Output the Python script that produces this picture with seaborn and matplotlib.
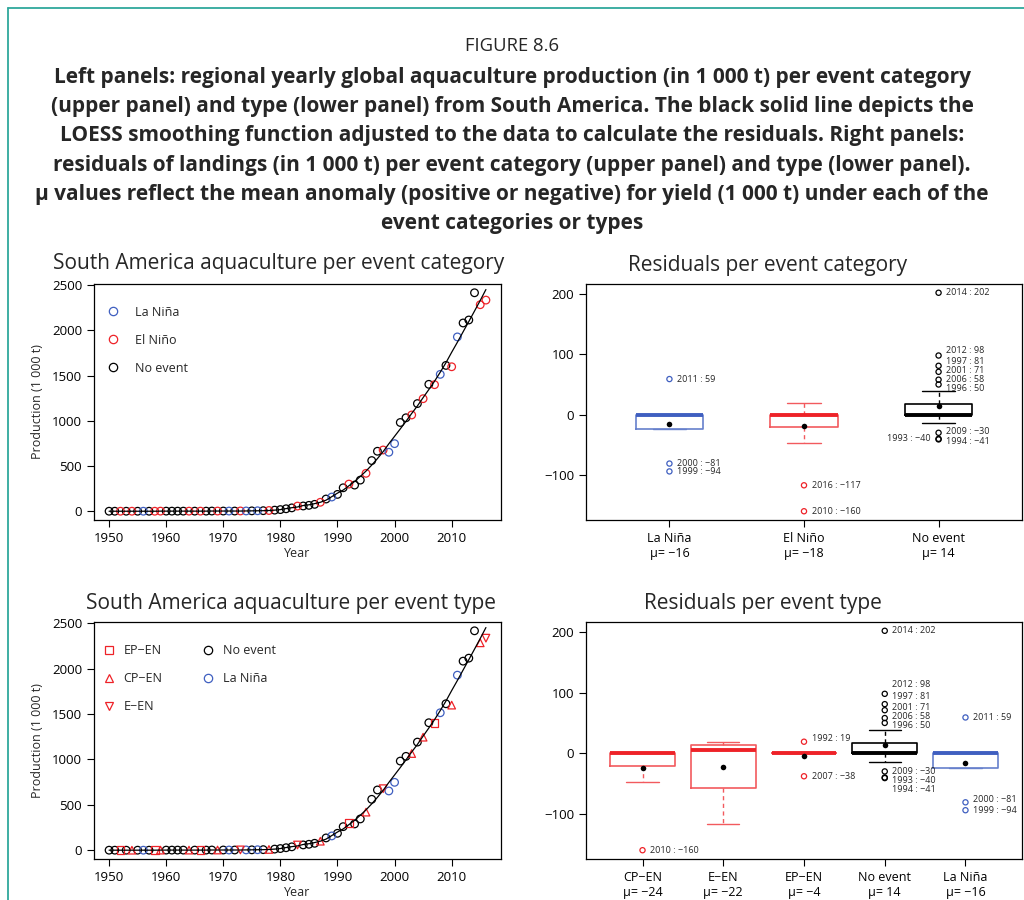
import matplotlib
matplotlib.use("Agg")
import matplotlib.pyplot as plt
import numpy as np
import pandas as pd
import seaborn as sns
from matplotlib.lines import Line2D


# =========================
# DATA
# =========================
YEARS = list(range(1950, 2017))

PRODUCTION = [
    1, 1, 1, 1, 1, 1, 1, 1, 1, 2,
    2, 2, 2, 2, 2, 2, 2, 2, 3, 3,
    3, 3, 3, 4, 4, 5, 6, 7, 9, 13,
    19, 28, 38, 58, 59, 66, 77, 100, 136, 158,
    187, 260, 301, 290, 345, 420, 561, 664, 678, 653,
    748, 982, 1034, 1065, 1191, 1245, 1404, 1400, 1514, 1613,
    1598, 1928, 2082, 2115, 2416, 2284, 2335,
]

RESIDUALS = [
    0, 0, 0, 0, 0, 0, 0, 0, 0, 0,
    0, 0, 0, 0, 0, 0, 0, 0, 0, 0,
    0, 0, 0, 1, 0, 0, 0, 0, 0, 0,
    0, -2, -2, 10, -5, -6, -8, 0, 13, -4,
    -14, 25, 19, -40, -41, -25, 50, 81, 18, -94,
    -81, 71, 39, -17, 26, -12, 58, -38, -24, -30,
    -160, 59, 98, 17, 202, -47, -117,
]

EVENT_CODES = [
    "N", "N", "EP", "N", "CP", "N", "L", "N", "EP", "CP",
    "N", "N", "N", "N", "CP", "N", "EP", "N", "N", "CP",
    "N", "L", "N", "E", "L", "N", "L", "N", "CP", "N",
    "N", "N", "N", "E", "N", "N", "N", "CP", "N", "L",
    "N", "N", "EP", "N", "N", "CP", "N", "N", "E", "L",
    "L", "N", "N", "CP", "N", "CP", "N", "EP", "L", "N",
    "CP", "L", "N", "N", "N", "CP", "E",
]

TYPE_NAMES = {"N": "No event", "L": "La Niña", "CP": "CP−EN", "EP": "EP−EN", "E": "E−EN"}
CATEGORY_ORDER = ["La Niña", "El Niño", "No event"]
TYPE_ORDER = ["CP−EN", "E−EN", "EP−EN", "No event", "La Niña"]
LEGEND_TYPES = ["EP−EN", "CP−EN", "E−EN", "No event", "La Niña"]

CAPTION = [
    "Left panels: regional yearly global aquaculture production (in 1 000 t) per event category",
    "(upper panel) and type (lower panel) from South America. The black solid line depicts the",
    "LOESS smoothing function adjusted to the data to calculate the residuals. Right panels:",
    "residuals of landings (in 1 000 t) per event category (upper panel) and type (lower panel).",
    "μ values reflect the mean anomaly (positive or negative) for yield (1 000 t) under each of the",
    "event categories or types",
]

# =========================
# STYLE
# =========================
BLUE = "#3f5fc0"
RED = "#ee2228"
BLACK = "#000000"
LIGHT = {BLUE: "#6680cc", RED: "#f25a5e", BLACK: "#000000"}
TEAL = "#2fa89c"

GROUP_COLORS = {
    "La Niña": BLUE, "El Niño": RED, "No event": BLACK,
    "CP−EN": RED, "E−EN": RED, "EP−EN": RED,
}
TYPE_MARKERS = {"No event": "o", "La Niña": "o", "CP−EN": "^", "EP−EN": "s", "E−EN": "v"}

# label nudges (data units) and side for crowded outlier labels
NUDGE_TOP = {2012: 8, 1997: 7, 2001: 2, 2006: 1, 1996: -6, 2009: 2, 1994: -4}
LEFT_TOP = {1993}
NUDGE_BOTTOM = {2012: 15, 1997: 12, 2001: 5, 2006: 3, 1996: -4,
                2009: 0, 1993: -5, 1994: -19, 1992: 6, 2000: 4}


def fmt_num(v):
    v = int(round(v))
    return f"−{abs(v)}" if v < 0 else f"{v}"


def tukey_stats(values):
    """R style boxplot stats (Tukey hinges, 1.5 IQR whiskers)."""
    v = np.sort(np.asarray(values, dtype=float))
    n = len(v)
    n4 = np.floor((n + 3) / 2) / 2
    d = np.array([1, n4, (n + 1) / 2, n + 1 - n4, n]) - 1
    five = 0.5 * (v[np.floor(d).astype(int)] + v[np.ceil(d).astype(int)])
    q1, med, q3 = five[1], five[2], five[3]
    iqr = q3 - q1
    lo, hi = q1 - 1.5 * iqr, q3 + 1.5 * iqr
    inside = v[(v >= lo) & (v <= hi)]
    return {
        "med": med, "q1": q1, "q3": q3,
        "whislo": inside.min(), "whishi": inside.max(),
        "mean": v.mean(), "fliers": v[(v < lo) | (v > hi)],
        "lo": lo, "hi": hi,
    }


def style_axes(ax):
    for spine in ax.spines.values():
        spine.set_visible(True)
        spine.set_linewidth(0.9)
        spine.set_color("black")
    ax.tick_params(direction="out", length=5, width=0.8, labelsize=9.5, colors="black")
    ax.grid(False)


def production_panel(ax, df, group_col, order, markers):
    for name in order:
        sub = df[df[group_col] == name]
        color = GROUP_COLORS[name]
        sns.scatterplot(
            data=sub, x="year", y="production", ax=ax,
            marker=markers[name], color=color, facecolor="none", edgecolor=color,
            s=30, linewidth=0.9, legend=False,
        )
    sns.lineplot(data=df, x="year", y="fit", ax=ax, color="black", linewidth=0.9, legend=False)
    ax.set_xlim(1947.36, 2018.64)
    ax.set_ylim(-96, 2513)
    ax.set_xticks(range(1950, 2011, 10))
    ax.set_yticks(range(0, 2501, 500))
    ax.set_xlabel("Year", fontsize=9, labelpad=1.5)
    ax.set_ylabel("Production (1 000 t)", fontsize=9, labelpad=6)
    style_axes(ax)


def legend_handle(name, marker):
    color = GROUP_COLORS[name]
    return Line2D([], [], linestyle="none", marker=marker, markersize=6,
                  markerfacecolor="none", markeredgecolor=color, markeredgewidth=0.9)


def residual_panel(ax, df, group_col, order, width, nudges, left_labels):
    tick_labels = []
    means = []
    for i, name in enumerate(order):
        sub = df[df[group_col] == name]
        st = tukey_stats(sub["residual"])
        color = GROUP_COLORS[name]
        light = LIGHT[color]
        ax.bxp(
            [st], positions=[i], widths=width, capwidths=width / 2,
            showfliers=False, showmeans=False, manage_ticks=False,
            boxprops=dict(color=light, linewidth=1.2),
            medianprops=dict(color=color, linewidth=2.8, solid_capstyle="butt"),
            whiskerprops=dict(color=light, linewidth=1.0, linestyle=(0, (3, 2.5))),
            capprops=dict(color=light, linewidth=1.0),
        )
        means.append(st["mean"])
        tick_labels.append(f"{name}\nμ= {fmt_num(st['mean'])}")

        out = sub[(sub["residual"] < st["lo"]) | (sub["residual"] > st["hi"])]
        if len(out):
            sns.scatterplot(
                x=[i] * len(out), y=out["residual"].to_numpy(), ax=ax,
                marker="o", color=color, facecolor="none", edgecolor=color,
                s=14, linewidth=0.9, legend=False,
            )
        for year, value in zip(out["year"], out["residual"]):
            text = f"{year} : {fmt_num(value)}"
            y = value + nudges.get(year, 0)
            if year in left_labels:
                ax.annotate(text, xy=(i, y), xytext=(-6, 0), textcoords="offset points",
                            ha="right", va="center", fontsize=6.5)
            else:
                ax.annotate(text, xy=(i, y), xytext=(5.5, 0), textcoords="offset points",
                            ha="left", va="center", fontsize=6.5)

    sns.scatterplot(x=list(range(len(order))), y=means, ax=ax, color="black",
                    edgecolor="black", s=16, linewidth=0, legend=False, zorder=5)
    n = len(order)
    pad = 0.04 * n
    ax.set_xlim(-0.5 - pad, n - 0.5 + pad)
    ax.set_ylim(-174.5, 216.5)
    ax.set_xticks(range(n))
    ax.set_xticklabels(tick_labels, linespacing=1.25)
    ax.set_yticks([-100, 0, 100, 200])
    ax.set_yticklabels([fmt_num(v) for v in [-100, 0, 100, 200]])
    ax.set_xlabel("")
    ax.set_ylabel("")
    style_axes(ax)
    ax.tick_params(axis="x", labelsize=9)


def main():
    sns.set_style("ticks")
    plt.rcParams["font.family"] = ["Open Sans", "DejaVu Sans"]

    df = pd.DataFrame({
        "year": YEARS,
        "production": PRODUCTION,
        "residual": RESIDUALS,
        "type": [TYPE_NAMES[c] for c in EVENT_CODES],
    })
    df["category"] = [t if t in ("No event", "La Niña") else "El Niño" for t in df["type"]]
    df["fit"] = df["production"] - df["residual"]

    fig = plt.figure(figsize=(10.24, 9), dpi=100)
    W, H = 1024, 900

    def axes_px(x0, y0, x1, y1):
        return fig.add_axes([x0 / W, 1 - y1 / H, (x1 - x0) / W, (y1 - y0) / H])

    # frame of the figure box
    fig.add_artist(Line2D([8 / W, 8 / W], [0, 1 - 8 / H], transform=fig.transFigure, color=TEAL, lw=1.3))
    fig.add_artist(Line2D([8 / W, 1], [1 - 8 / H, 1 - 8 / H], transform=fig.transFigure, color=TEAL, lw=1.3))

    # caption
    fig.text(0.5, 1 - 46 / H, "FIGURE 8.6", ha="center", va="center", fontsize=13.3)
    for k, line in enumerate(CAPTION):
        fig.text(0.5, 1 - (77 + 29.4 * k) / H, line, ha="center", va="center",
                 fontsize=15, fontweight="bold")

    # =========================
    # UPPER PANELS
    # =========================
    ax1 = axes_px(94, 284, 501, 520)
    cat_markers = {name: "o" for name in CATEGORY_ORDER}
    production_panel(ax1, df, "category", ["No event", "El Niño", "La Niña"], cat_markers)
    ax1.legend(
        handles=[legend_handle(n, "o") for n in CATEGORY_ORDER], labels=CATEGORY_ORDER,
        loc="upper left", bbox_to_anchor=(0.0, 0.955), frameon=False, fontsize=9,
        labelspacing=1.2, handletextpad=1.2, handlelength=1.2,
    )
    fig.text(279 / W, 1 - 264 / H, "South America aquaculture per event category",
             ha="center", va="center", fontsize=15)

    ax2 = axes_px(586, 284, 1022, 520)
    residual_panel(ax2, df, "category", CATEGORY_ORDER, 0.5, NUDGE_TOP, LEFT_TOP)
    fig.text(768 / W, 1 - 265 / H, "Residuals per event category",
             ha="center", va="center", fontsize=15)

    # =========================
    # LOWER PANELS
    # =========================
    ax3 = axes_px(94, 622, 501, 859)
    production_panel(ax3, df, "type", ["No event", "La Niña", "CP−EN", "EP−EN", "E−EN"], TYPE_MARKERS)
    ax3.legend(
        handles=[legend_handle(n, TYPE_MARKERS[n]) for n in LEGEND_TYPES], labels=LEGEND_TYPES,
        loc="upper left", bbox_to_anchor=(-0.01, 0.955), frameon=False, fontsize=9, ncol=2,
        labelspacing=1.2, handletextpad=0.6, handlelength=1.2, columnspacing=3.0,
    )
    fig.text(291 / W, 1 - 603 / H, "South America aquaculture per event type",
             ha="center", va="center", fontsize=15)

    ax4 = axes_px(586, 622, 1022, 859)
    residual_panel(ax4, df, "type", TYPE_ORDER, 0.8, NUDGE_BOTTOM, set())
    fig.text(763 / W, 1 - 603 / H, "Residuals per event type",
             ha="center", va="center", fontsize=15)

    fig.savefig("out.png", dpi=100, facecolor="white")
    plt.close(fig)


if __name__ == "__main__":
    main()
